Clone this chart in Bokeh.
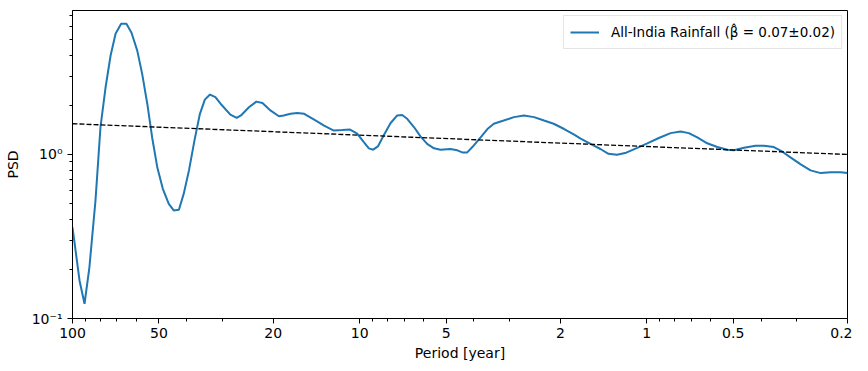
from bokeh.plotting import figure
from bokeh.models import Range1d, FixedTicker, CustomJSTickFormatter, Legend, LegendItem
from bokeh.embed import file_html
from bokeh.resources import INLINE

# Spectrum (period in years, PSD)
period = [100, 94.5, 90.8, 87.3, 83.2, 79.9, 76.7, 73.7, 70.8, 67.7, 64.9, 62.3, 59.5, 57.2,
          54.9, 52.8, 50.7, 48.5, 46.2, 44.4, 42.6, 41.0, 39.3, 37.6, 36.0, 34.6, 33.2, 31.8,
          30.5, 28.2, 26.8, 25.9, 24.3, 22.9, 21.8, 20.4, 19.1, 18.4, 17.4, 16.5, 15.6, 14.4,
          13.3, 12.3, 11.5, 10.8, 10.2, 9.67, 9.29, 8.97, 8.64, 8.24, 7.81, 7.40, 7.11, 6.83,
          6.47, 6.14, 5.82, 5.51, 5.23, 4.83, 4.57, 4.39, 4.22, 4.05, 3.79, 3.59, 3.41, 3.15,
          2.90, 2.68, 2.47, 2.28, 2.11, 1.94, 1.79, 1.70, 1.57, 1.45, 1.36, 1.27, 1.19, 1.09,
          0.996, 0.908, 0.826, 0.763, 0.714, 0.667, 0.616, 0.568, 0.524, 0.497, 0.459, 0.418,
          0.391, 0.361, 0.337, 0.316, 0.291, 0.269, 0.248, 0.229, 0.211, 0.200]
psd = [0.36, 0.17, 0.123, 0.206, 0.52, 1.47, 2.57, 4.0, 5.44, 6.26, 6.26, 5.52, 4.3, 3.1,
       2.04, 1.27, 0.84, 0.62, 0.50, 0.456, 0.46, 0.575, 0.80, 1.22, 1.77, 2.16, 2.32, 2.24,
       2.04, 1.75, 1.67, 1.73, 1.94, 2.1, 2.06, 1.85, 1.71, 1.73, 1.77, 1.79, 1.77, 1.63,
       1.50, 1.40, 1.41, 1.42, 1.34, 1.19, 1.09, 1.07, 1.12, 1.31, 1.55, 1.73, 1.74, 1.65,
       1.47, 1.29, 1.16, 1.09, 1.07, 1.08, 1.06, 1.03, 1.03, 1.11, 1.27, 1.43, 1.54, 1.61,
       1.69, 1.73, 1.69, 1.61, 1.54, 1.43, 1.32, 1.25, 1.16, 1.08, 1.01, 0.995, 1.02, 1.09,
       1.17, 1.26, 1.35, 1.38, 1.35, 1.27, 1.17, 1.11, 1.07, 1.06, 1.10, 1.13, 1.13, 1.11,
       1.04, 0.96, 0.87, 0.80, 0.77, 0.78, 0.78, 0.77]

# Fitted power-law trend
trend_period = [100, 0.2]
trend_psd = [1.54, 1.0]

x_ticks = [100, 50, 20, 10, 5, 2, 1, 0.5, 0.2]
x_minor = [90, 80, 70, 60, 40, 30, 9, 8, 7, 6, 4, 3, 0.9, 0.8, 0.7, 0.6, 0.4, 0.3]
y_ticks = [0.1, 1]
y_minor = [0.2, 0.3, 0.4, 0.5, 0.6, 0.7, 0.8, 0.9, 2, 3, 4, 5, 6, 7]

label = "All-India Rainfall (\u03b2\u0302 = 0.07\u00b10.02)"
FONT = "DejaVu Sans"

p = figure(width=852, height=363, x_axis_type="log", y_axis_type="log",
           x_range=Range1d(100, 0.2), y_range=Range1d(0.1, 7.55),
           output_backend="svg", toolbar_location=None,
           min_border_left=72, min_border_right=5, min_border_top=10, min_border_bottom=45)

r = p.line(period, psd, line_color="#1f77b4", line_width=2)
p.line(trend_period, trend_psd, line_color="black", line_width=1.3, line_dash="5 2")

p.xgrid.visible = False
p.ygrid.visible = False
p.outline_line_color = "black"
p.outline_line_width = 1

p.xaxis.ticker = FixedTicker(ticks=x_ticks, minor_ticks=x_minor)
p.xaxis.formatter = CustomJSTickFormatter(code="return String(tick);")
p.yaxis.ticker = FixedTicker(ticks=y_ticks, minor_ticks=y_minor)
p.yaxis.formatter = CustomJSTickFormatter(
    code="return tick < 0.5 ? '10\u207b\u00b9' : '10\u2070';")

for ax in (p.xaxis, p.yaxis):
    ax.major_label_text_font = FONT
    ax.major_label_text_font_size = "14px"
    ax.major_label_text_color = "black"
    ax.axis_label_text_font = FONT
    ax.axis_label_text_font_size = "14px"
    ax.axis_label_text_font_style = "normal"
    ax.axis_label_text_color = "black"
    ax.major_tick_in = 0
    ax.major_tick_out = 5
    ax.minor_tick_in = 0
    ax.minor_tick_out = 3
    ax.axis_line_color = "black"
    ax.major_tick_line_color = "black"
    ax.minor_tick_line_color = "black"

p.xaxis.axis_label = "Period [year]"
p.yaxis.axis_label = "PSD"
p.xaxis.axis_label_standoff = 4
p.xaxis.major_label_standoff = 4
p.yaxis.axis_label_standoff = 8

legend = Legend(items=[LegendItem(label=label, renderers=[r])], location="top_right")
legend.label_text_font = FONT
legend.label_text_font_size = "13.5px"
legend.label_text_color = "black"
legend.glyph_width = 29
legend.label_standoff = 12
legend.border_line_color = "#cccccc"
legend.border_line_width = 1
legend.padding = 6
legend.margin = 5
legend.spacing = 0
legend.background_fill_alpha = 0.8
p.add_layout(legend)

open("out.html", "w").write(file_html(p, INLINE))
